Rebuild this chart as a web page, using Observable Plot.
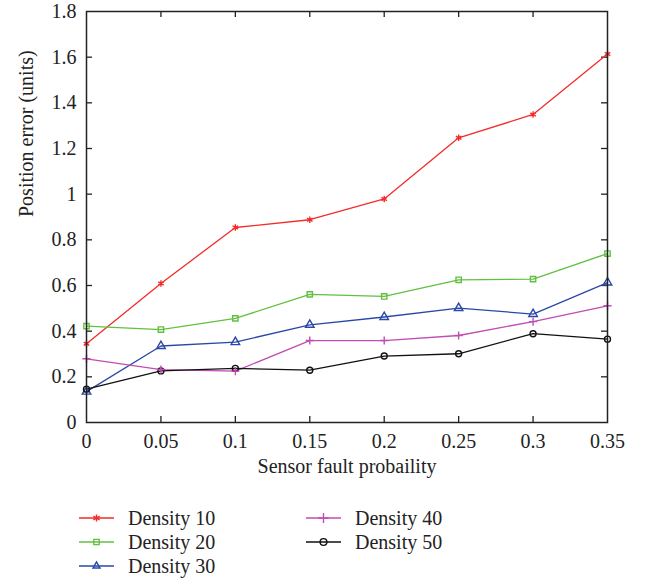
<!DOCTYPE html>
<html>
<head>
<meta charset="utf-8">
<script src="https://cdn.jsdelivr.net/npm/d3@7"></script>
<script src="https://cdn.jsdelivr.net/npm/@observablehq/plot@0.6"></script>
<style>
  html, body { margin: 0; padding: 0; background: #fff; }
  body { width: 649px; font-family: "Liberation Serif", "DejaVu Serif", serif; color: #222; }
  #legend { display: grid; grid-auto-flow: column; grid-template-rows: repeat(3, 24px);
    grid-template-columns: 227px 200px; margin-left: 79px; padding-top: 21px; font-size: 20px; }
  .item { display: flex; align-items: center; height: 24px; }
  .item svg { margin-right: 14px; flex: none; }
</style>
</head>
<body>
<div id="chart"></div>
<div id="legend"></div>
<script>
const probability = [0, 0.05, 0.1, 0.15, 0.2, 0.25, 0.3, 0.35];
const density10 = [0.345, 0.609, 0.854, 0.888, 0.979, 1.247, 1.349, 1.614];
const density20 = [0.422, 0.407, 0.456, 0.561, 0.552, 0.625, 0.628, 0.740];
const density30 = [0.135, 0.335, 0.352, 0.428, 0.462, 0.501, 0.475, 0.613];
const density40 = [0.279, 0.232, 0.225, 0.359, 0.359, 0.381, 0.442, 0.511];
const density50 = [0.146, 0.226, 0.237, 0.229, 0.291, 0.301, 0.389, 0.365];
const seriesNames = ["Density 10", "Density 20", "Density 30", "Density 40", "Density 50"];
const seriesValues = [density10, density20, density30, density40, density50];
const seriesColors = ["#f52a2a", "#62c040", "#2a48a8", "#c04cb4", "#111111"];
const seriesSymbols = ["asterisk", "square", "triangle", "plus", "circle"];
const xTicks = [0, 0.05, 0.1, 0.15, 0.2, 0.25, 0.3, 0.35];
const yTicks = [0, 0.2, 0.4, 0.6, 0.8, 1, 1.2, 1.4, 1.6, 1.8];
const xLabel = "Sensor fault probaility";
const yLabel = "Position error (units)";

const data = [];
seriesNames.forEach((name, i) => {
  probability.forEach((p, j) => data.push({series: name, x: p, y: seriesValues[i][j]}));
});

const W = 649, H = 485, ML = 86, MR = 42, MT = 11, MB = 63;
const innerW = W - ML - MR, innerH = H - MT - MB;
const tickLen = 6;
const font = "Liberation Serif, DejaVu Serif, serif";
const fmt = d => String(+(+d).toFixed(2));
const symbolRadius = {asterisk: 4.5, square: 4.5, triangle: 5, plus: 3.8, circle: 4.5};

const chart = Plot.plot({
  width: W, height: H,
  marginLeft: ML, marginRight: MR, marginTop: MT, marginBottom: MB,
  style: {fontFamily: font, fontSize: "20px", color: "#222", background: "#fff"},
  x: {domain: [0, 0.35]},
  y: {domain: [0, 1.8]},
  color: {domain: seriesNames, range: seriesColors},
  symbol: {domain: seriesNames, range: seriesSymbols},
  marks: [
    Plot.axisX({ticks: xTicks, tickSize: 0, tickPadding: 11, label: null, fontSize: 20, tickFormat: fmt}),
    Plot.axisY({ticks: yTicks, tickSize: 0, tickPadding: 10, label: null, fontSize: 20, tickFormat: fmt}),
    // inward ticks on all four sides
    Plot.tickY(yTicks.slice(1, -1), {y: d => d, insetRight: innerW - tickLen, stroke: "#222", strokeWidth: 1.3}),
    Plot.tickY(yTicks.slice(1, -1), {y: d => d, insetLeft: innerW - tickLen, stroke: "#222", strokeWidth: 1.3}),
    Plot.tickX(xTicks.slice(1, -1), {x: d => d, insetTop: innerH - tickLen, stroke: "#222", strokeWidth: 1.3}),
    Plot.tickX(xTicks.slice(1, -1), {x: d => d, insetBottom: innerH - tickLen, stroke: "#222", strokeWidth: 1.3}),
    Plot.line(data, {x: "x", y: "y", z: "series", stroke: "series", strokeWidth: 1.3}),
    Plot.dot(data, {x: "x", y: "y", stroke: "series", symbol: "series",
      r: d => symbolRadius[seriesSymbols[seriesNames.indexOf(d.series)]], strokeWidth: 1.4, fill: "none"}),
    Plot.frame({stroke: "#222", strokeWidth: 1.5}),
    Plot.text([xLabel], {text: d => d, frameAnchor: "bottom", dy: 50, fontSize: 20, fill: "#222"}),
    Plot.text([yLabel], {text: d => d, frameAnchor: "left", dx: -60, rotate: -90, fontSize: 20, fill: "#222"})
  ]
});
document.getElementById("chart").appendChild(chart);

// legend
const legend = document.getElementById("legend");
const symMap = {asterisk: d3.symbolAsterisk, square: d3.symbolSquare2, triangle: d3.symbolTriangle2, plus: d3.symbolPlus, circle: d3.symbolCircle};
seriesNames.forEach((name, i) => {
  const item = document.createElement("div");
  item.className = "item";
  const svg = d3.create("svg").attr("width", 35).attr("height", 16);
  svg.append("line").attr("x1", 0).attr("x2", 35).attr("y1", 8).attr("y2", 8)
    .attr("stroke", seriesColors[i]).attr("stroke-width", 1.5);
  svg.append("path").attr("transform", "translate(17.5,8)")
    .attr("d", d3.symbol(symMap[seriesSymbols[i]], 36)())
    .attr("fill", "none").attr("stroke", seriesColors[i]).attr("stroke-width", 1.4);
  item.appendChild(svg.node());
  const span = document.createElement("span");
  span.textContent = name;
  item.appendChild(span);
  legend.appendChild(item);
});
</script>
</body>
</html>
